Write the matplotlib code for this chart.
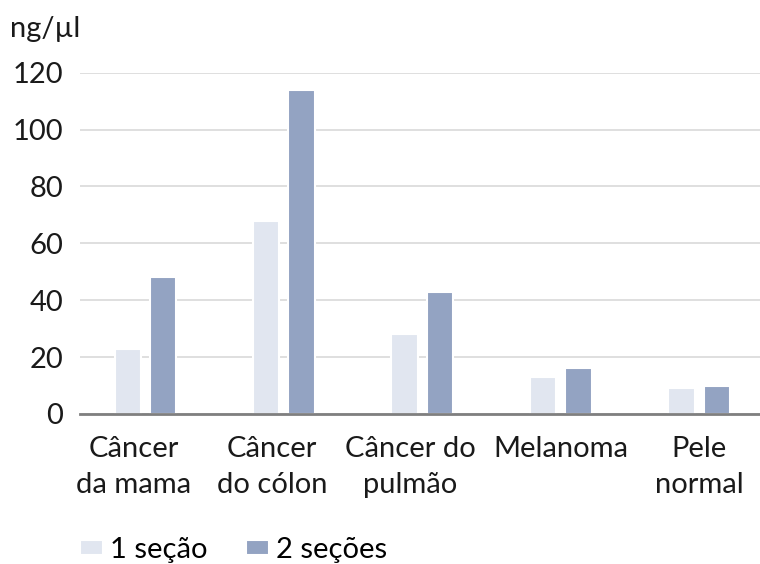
import numpy as np
import matplotlib.pyplot as plt
import matplotlib.transforms as mtransforms

plt.rcParams['font.family'] = ['Lato', 'DejaVu Sans']

categories = ['Câncer\nda mama', 'Câncer\ndo cólon', 'Câncer do\npulmão', 'Melanoma', 'Pele\nnormal']
one_section = [23, 68, 28, 13, 9]
two_sections = [48, 114, 43, 16, 10]
series_names = ['1 seção', '2 seções']

fig = plt.figure(figsize=(7.6, 5.64), dpi=100)
ax = fig.add_axes([0.105, 0.266, 0.895, 0.605])

x = np.arange(len(categories))
w = 0.19
ax.bar(x - 0.128, one_section, w, color='#e1e6f0', edgecolor='white', linewidth=1.5,
       label=series_names[0], zorder=3)
ax.bar(x + 0.128, two_sections, w, color='#93a3c2', edgecolor='white', linewidth=1.5,
       label=series_names[1], zorder=3)

ax.set_ylim(0, 120)
ax.set_xlim(-0.475, 4.44)
ax.set_yticks(range(0, 121, 20))
ax.yaxis.grid(True, color='#d9d9d9', linewidth=1.2, zorder=0)
ax.set_axisbelow(True)
for s in ['top', 'right', 'left']:
    ax.spines[s].set_visible(False)
ax.spines['bottom'].set_color('#7f7f7f')
ax.spines['bottom'].set_linewidth(2)
ax.spines['bottom'].set_zorder(4)
ax.tick_params(axis='both', length=0, labelsize=21, colors='#1a1a1a')
ax.tick_params(axis='y', pad=12)
ax.tick_params(axis='x', pad=16)
ax.set_xticks(x)
ax.set_xticklabels(categories, linespacing=1.45)

# wrapped labels sit a bit left of their group, as in the original
shift = mtransforms.ScaledTranslation(-12 / 100, 0, fig.dpi_scale_trans)
for lab in ax.get_xticklabels()[:3]:
    lab.set_transform(lab.get_transform() + shift)

fig.text(0.013, 0.948, 'ng/µl', fontsize=21, color='#1a1a1a', va='center')

fig.legend(loc='center left', bbox_to_anchor=(0.105, 0.025), ncol=2, frameon=False,
           fontsize=21, handlelength=0.8, handleheight=0.38, handletextpad=0.25,
           columnspacing=1.3, borderaxespad=0, borderpad=0)

fig.savefig('out.png', dpi=100, facecolor='white')
